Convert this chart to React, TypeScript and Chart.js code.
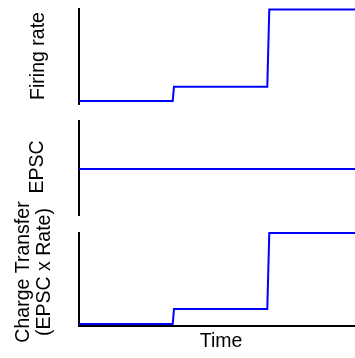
import React, { useEffect, useRef } from "react";
import { Chart, registerables } from "chart.js";

Chart.register(...registerables);

// ---- data ----
const timeSteps = [0, 33.0, 33.45, 66.3, 67.0, 100];
const firingRate = [3.2, 3.2, 18.2, 18.2, 99.6, 99.6];
const timeFlat = [0, 100];
const epsc = [49, 49];
const chargeTransfer = [1.8, 1.8, 18, 18, 100, 100];
const yLabelFiring = ["Firing rate"];
const yLabelEpsc = ["EPSC"];
const yLabelCharge = ["Charge Transfer", "(EPSC x Rate)"];
const xLabel = "Time";

const FONT = "'Liberation Sans', Arial, sans-serif";
const BLUE = "#0000ff";
const FONT_SIZE = 19.5;

function makeSideLabel(lines: string[], baselines: number[], centerY: number) {
  return {
    id: "sideLabel",
    afterDraw(chart: any) {
      const ctx = chart.ctx;
      ctx.save();
      ctx.fillStyle = "#000";
      ctx.font = `${FONT_SIZE}px ${FONT}`;
      ctx.textAlign = "center";
      ctx.textBaseline = "alphabetic";
      lines.forEach((line, i) => {
        ctx.save();
        ctx.translate(baselines[i], centerY);
        ctx.rotate(-Math.PI / 2);
        ctx.fillText(line, 0, 0);
        ctx.restore();
      });
      ctx.restore();
    },
  };
}

function makeConfig(
  xs: number[],
  ys: number[],
  padding: { top: number; bottom: number },
  showX: boolean,
  plugin: any
): any {
  return {
    type: "line",
    data: {
      datasets: [
        {
          data: xs.map((x, i) => ({ x, y: ys[i] })),
          borderColor: BLUE,
          borderWidth: 2,
          pointRadius: 0,
          tension: 0,
          fill: false,
          clip: false,
        },
      ],
    },
    options: {
      responsive: false,
      animation: false,
      devicePixelRatio: 1,
      layout: { padding: { left: 79, right: 0, top: padding.top, bottom: padding.bottom } },
      plugins: { legend: { display: false }, tooltip: { enabled: false }, title: { display: false } },
      scales: {
        x: {
          type: "linear",
          min: 0,
          max: 100,
          display: showX,
          ticks: { display: false },
          grid: { display: false, drawTicks: false },
          border: { display: true, color: "#000", width: 2 },
          title: {
            display: showX,
            text: xLabel,
            color: "#000",
            font: { family: FONT, size: FONT_SIZE, lineHeight: 1.2 },
            padding: { top: 4, bottom: 0 },
          },
        },
        y: {
          type: "linear",
          min: 0,
          max: 100,
          display: true,
          ticks: { display: false },
          grid: { display: false, drawTicks: false },
          border: { display: true, color: "#000", width: 2 },
          title: { display: false },
        },
      },
    },
    plugins: [plugin],
  };
}

export default function App() {
  const r1 = useRef<HTMLCanvasElement>(null);
  const r2 = useRef<HTMLCanvasElement>(null);
  const r3 = useRef<HTMLCanvasElement>(null);

  useEffect(() => {
    const c1 = new Chart(
      r1.current as HTMLCanvasElement,
      makeConfig(timeSteps, firingRate, { top: 9, bottom: 254 }, false, makeSideLabel(yLabelFiring, [44.3], 56))
    );
    const c2 = new Chart(
      r2.current as HTMLCanvasElement,
      makeConfig(timeFlat, epsc, { top: 121, bottom: 143 }, false, makeSideLabel(yLabelEpsc, [43.3], 167))
    );
    const c3 = new Chart(
      r3.current as HTMLCanvasElement,
      makeConfig(timeSteps, chargeTransfer, { top: 233, bottom: 5 }, true, makeSideLabel(yLabelCharge, [29.3, 50], 272))
    );
    return () => {
      c1.destroy();
      c2.destroy();
      c3.destroy();
    };
  }, []);

  const canvasStyle: React.CSSProperties = {
    position: "absolute",
    left: 0,
    top: 0,
    width: 363,
    height: 358,
  };

  return (
    <div
      style={{
        position: "fixed",
        left: 0,
        top: 0,
        width: 355,
        height: 358,
        overflow: "hidden",
        background: "#fff",
      }}
    >
      <canvas ref={r1} width={363} height={358} style={canvasStyle} />
      <canvas ref={r2} width={363} height={358} style={canvasStyle} />
      <canvas ref={r3} width={363} height={358} style={canvasStyle} />
    </div>
  );
}
